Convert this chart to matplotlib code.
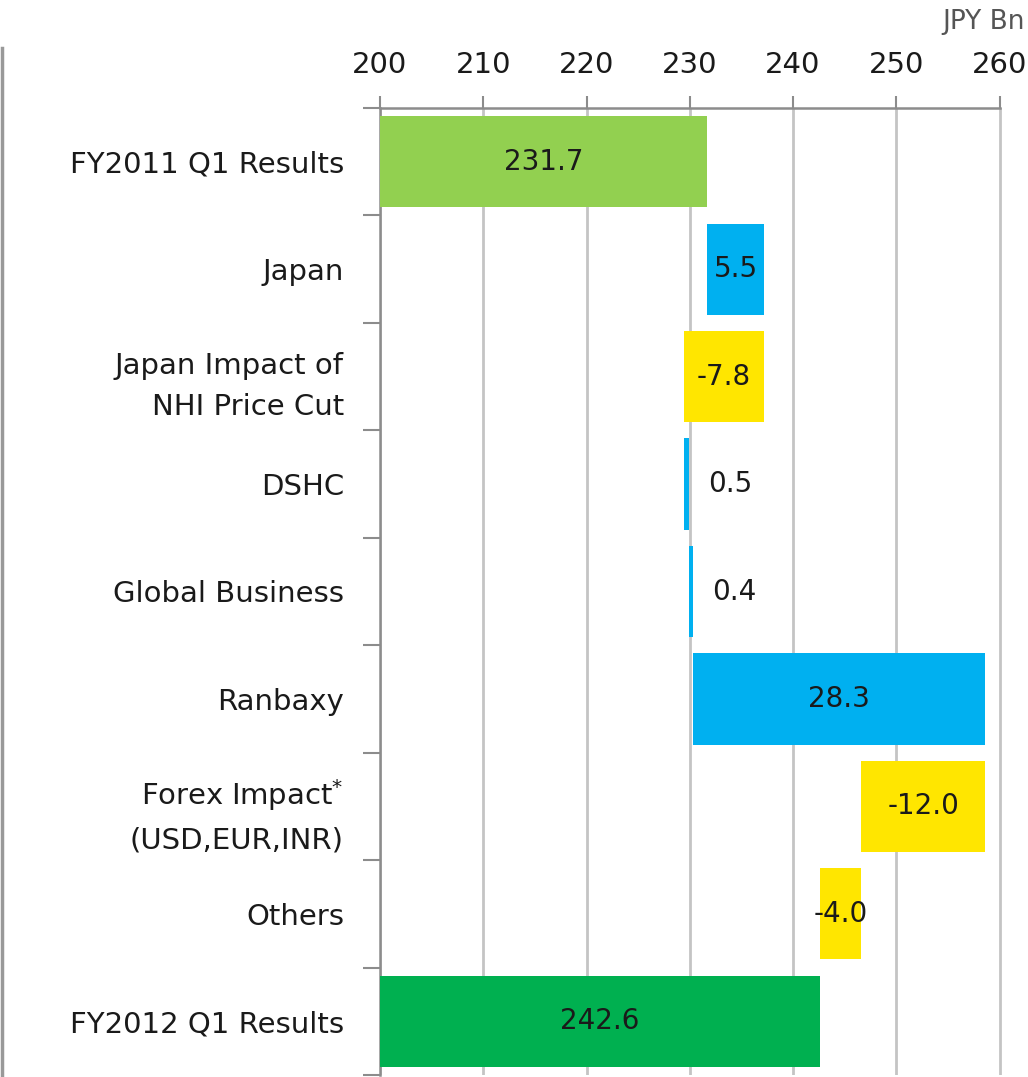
import matplotlib
matplotlib.use("Agg")
import matplotlib.pyplot as plt
from matplotlib.lines import Line2D

# --- Data ---
categories = [
    "FY2011 Q1 Results",
    "Japan",
    "Japan Impact of\nNHI Price Cut",
    "DSHC",
    "Global Business",
    "Ranbaxy",
    "Forex Impact$^{*}$\n(USD,EUR,INR)",
    "Others",
    "FY2012 Q1 Results",
]
start_total = 231.7
changes = [5.5, -7.8, 0.5, 0.4, 28.3, -12.0, -4.0]
end_total = 242.6
x_ticks = [200, 210, 220, 230, 240, 250, 260]

C_START = "#92D050"
C_UP = "#00B0F0"
C_DOWN = "#FFE600"
C_END = "#00B050"

# build waterfall segments (left, width, colour, label)
lefts, widths, colors, labels = [], [], [], []
lefts.append(200)
widths.append(start_total - 200)
colors.append(C_START)
labels.append(f"{start_total:.1f}")
level = start_total
for ch in changes:
    new = level + ch
    lefts.append(min(level, new))
    widths.append(abs(ch))
    colors.append(C_UP if ch > 0 else C_DOWN)
    labels.append(f"{ch:.1f}")
    level = new
lefts.append(200)
widths.append(end_total - 200)
colors.append(C_END)
labels.append(f"{end_total:.1f}")

W, H = 1028, 1077
fig = plt.figure(figsize=(W / 100, H / 100), dpi=100)
px_per_unit = 619.5 / 60
xmax = 260.3
ax = fig.add_axes([380 / W, 2 / H, (xmax - 200) * px_per_unit / W, (H - 108 - 2) / H])

y = list(range(len(categories)))
ax.barh(y, widths, left=lefts, height=0.85, color=colors, zorder=3)

ax.set_xlim(200, xmax)
ax.set_ylim(len(categories) - 0.5, -0.5)
ax.set_xticks(x_ticks)
ax.xaxis.tick_top()
ax.tick_params(axis="x", which="major", direction="out", length=9, width=1.5,
               color="#8c8c8c", labelsize=21, pad=12, labelcolor="#1a1a1a")
ax.grid(axis="x", color="#c4c4c4", linewidth=2, zorder=0)

ax.set_yticks(y)
ax.set_yticklabels(categories, fontsize=21, color="#1a1a1a", linespacing=1.6)
ax.tick_params(axis="y", which="major", length=0, pad=26)
ax.set_yticks([i + 0.5 for i in range(-1, len(categories))], minor=True)
ax.tick_params(axis="y", which="minor", direction="out", length=12, width=1.5,
               color="#8c8c8c")

for side in ["right", "bottom"]:
    ax.spines[side].set_visible(False)
for side in ["top", "left"]:
    ax.spines[side].set_color("#8c8c8c")
    ax.spines[side].set_linewidth(1.8)
ax.spines["top"].set_bounds(200, 260)

# value labels
for i, (l, w, lab) in enumerate(zip(lefts, widths, labels)):
    if w < 1:
        ax.annotate(lab, (l + w, i), xytext=(14, 0), textcoords="offset points",
                    ha="left", va="center", fontsize=20, color="#1a1a1a", zorder=4)
    else:
        ax.text(l + w / 2, i, lab, ha="center", va="center", fontsize=20,
                color="#1a1a1a", zorder=4)

fig.text(1025 / W, 1 - 22 / H, "JPY Bn", fontsize=19, color="#555555",
         ha="right", va="center")

# left border remnant
fig.add_artist(Line2D([1.5 / W, 1.5 / W], [0, 1 - 48 / H], transform=fig.transFigure,
                      color="#999999", linewidth=2.5))

fig.savefig("out.png", dpi=100)
